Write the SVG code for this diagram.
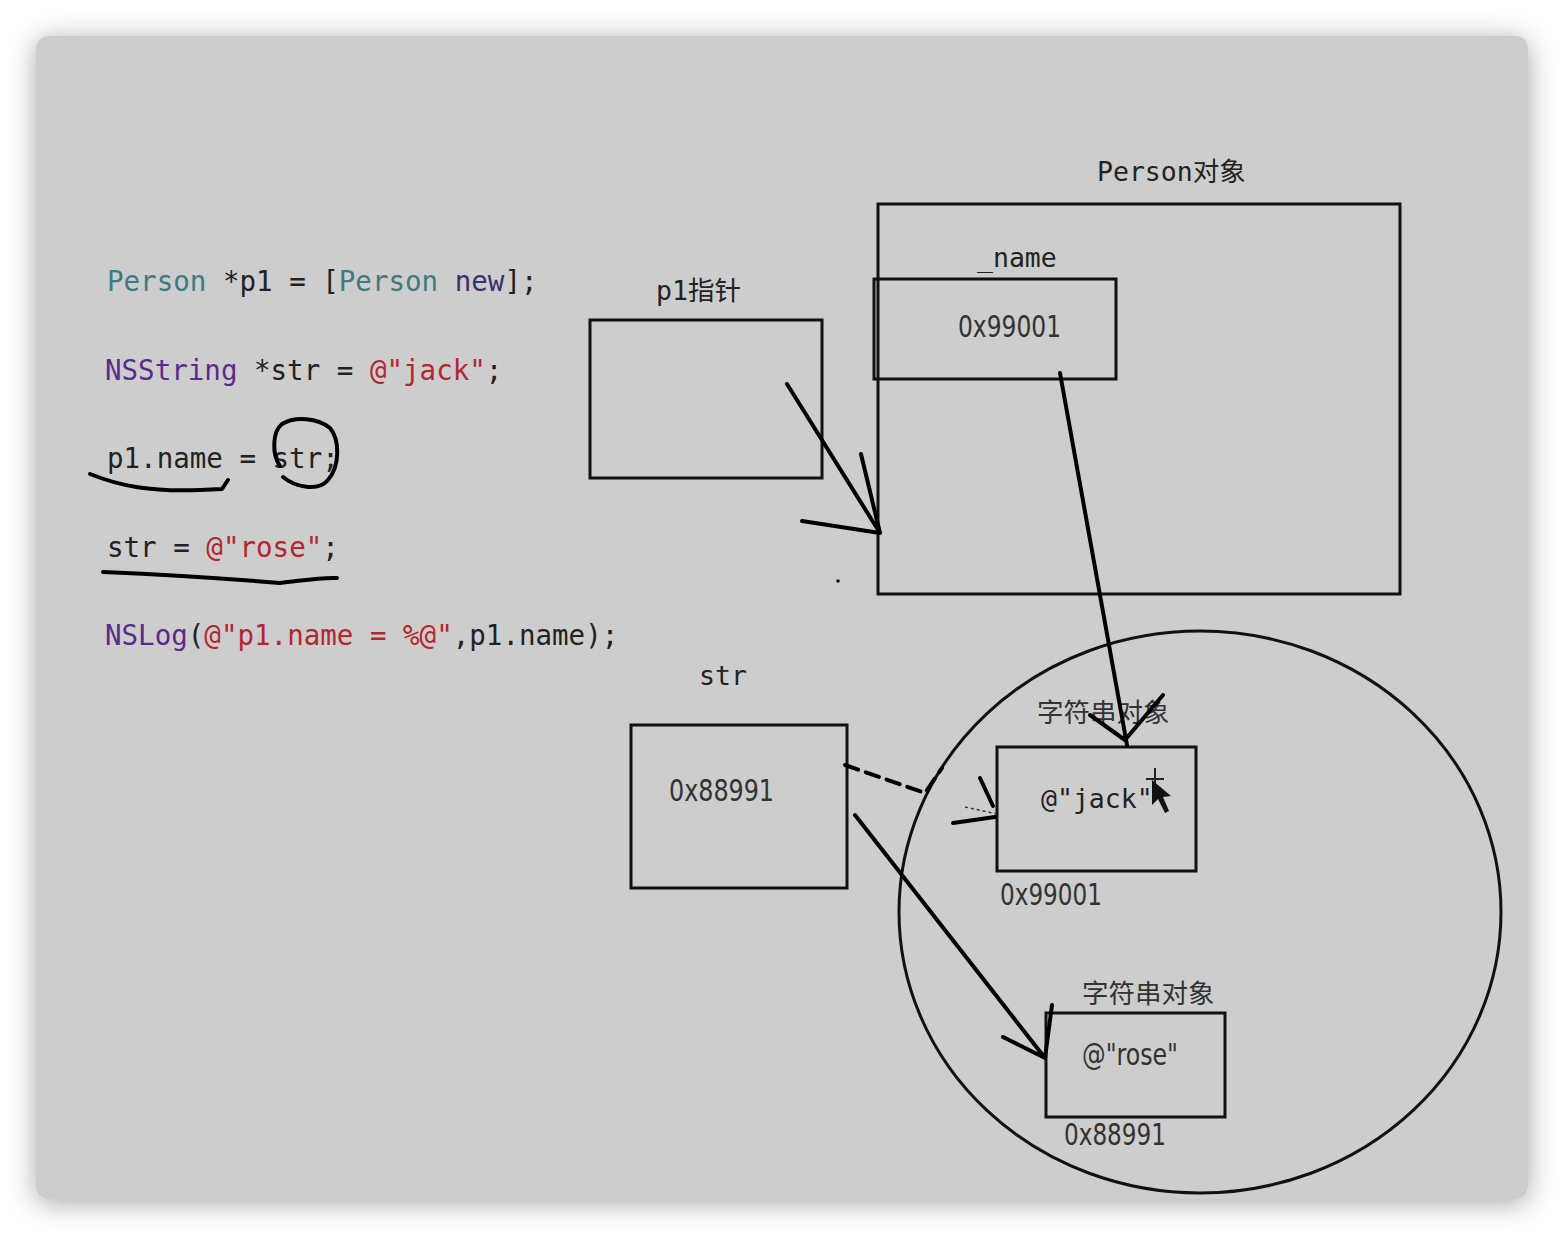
<svg xmlns="http://www.w3.org/2000/svg" width="1564" height="1236" viewBox="0 0 1564 1236">
<defs>
<filter id="sh" x="-10%" y="-10%" width="120%" height="120%">
<feDropShadow dx="0" dy="4" stdDeviation="14" flood-color="#000" flood-opacity="0.35"/>
</filter>
<style>
.box{fill:none;stroke:#111;stroke-width:3}
.ink{fill:none;stroke:#000;stroke-width:4;stroke-linecap:round;stroke-linejoin:round}
.mono{font-family:"DejaVu Sans Mono","Liberation Mono","Noto Sans CJK SC",monospace;font-size:27.5px;fill:#222}
.lbl{font-family:"DejaVu Sans Mono","Noto Sans CJK SC",monospace;font-size:26.5px;fill:#222}
.cjk{font-family:"DejaVu Sans","Noto Sans CJK SC",sans-serif;font-size:26.5px;fill:#333}
.addr{font-family:"DejaVu Sans Condensed","DejaVu Sans",sans-serif;font-size:30px;fill:#333}
.t{fill:#3e7a80}.k{fill:#3b2d6e}.c{fill:#5b2a8f}.s{fill:#b3262e}
</style>
</defs>
<rect width="1564" height="1236" fill="#ffffff"/>
<rect x="36" y="36" width="1492" height="1163" rx="12" fill="#cdcdcd" filter="url(#sh)"/>

<g id="code">
<text class="mono" x="107" y="291"><tspan class="t">Person</tspan> *p1 = [<tspan class="t">Person</tspan> <tspan class="k">new</tspan>];</text>
<text class="mono" x="105" y="380"><tspan class="c">NSString</tspan> *str = <tspan class="s">@"jack"</tspan>;</text>
<text class="mono" x="107" y="468">p1.name = str;</text>
<text class="mono" x="107" y="557">str = <tspan class="s">@"rose"</tspan>;</text>
<text class="mono" x="105" y="645"><tspan class="c">NSLog</tspan>(<tspan class="s">@"p1.name = %@"</tspan>,p1.name);</text>
<path class="ink" d="M90,474 C120,486 150,492 200,490 L222,489 L228,480"/>
<path class="ink" d="M283,477 C295,487 318,492 328,480 C340,466 340,440 330,428 C318,418 295,416 282,424 C272,432 272,455 280,466"/>
<path class="ink" d="M103,572 C150,574 220,578 280,583 C300,581 320,577 337,578"/>
</g>

<g id="p1">
<text class="lbl" x="656" y="300">p1指针</text>
<rect class="box" x="590" y="320" width="232" height="158"/>
</g>

<g id="person">
<text class="lbl" x="1097" y="181">Person对象</text>
<rect class="box" x="878" y="204" width="522" height="390"/>
<text class="lbl" x="977" y="267">_name</text>
<rect class="box" x="874" y="279" width="242" height="100"/>
<text class="addr" x="958" y="337" textLength="103" lengthAdjust="spacingAndGlyphs">0x99001</text>
</g>

<g id="str">
<text class="lbl" x="699" y="685">str</text>
<rect class="box" x="631" y="725" width="216" height="163"/>
<text class="addr" x="669" y="801" textLength="105" lengthAdjust="spacingAndGlyphs">0x88991</text>
</g>

<g id="heap">
<ellipse class="box" cx="1200" cy="912" rx="301" ry="281" stroke-width="3.5"/>
</g>

<g id="jack">
<text class="cjk" x="1037" y="722">字符串对象</text>
<rect class="box" x="997" y="747" width="199" height="124"/>
<text class="lbl" x="1041" y="808">@"jack"</text>
<text class="addr" x="1000" y="905" textLength="102" lengthAdjust="spacingAndGlyphs">0x99001</text>
<path d="M1155,768 V790 M1146,779 H1164" stroke="#222" stroke-width="2" fill="none"/>
<path d="M1152,780 L1152,805 L1158,799 L1165,813 L1169,811 L1163,797 L1171,796 Z" fill="#111"/>
</g>

<g id="rose">
<text class="cjk" x="1082" y="1003">字符串对象</text>
<rect class="box" x="1046" y="1013" width="179" height="104"/>
<text class="addr" x="1082" y="1065" textLength="96" lengthAdjust="spacingAndGlyphs">@"rose"</text>
<text class="addr" x="1064" y="1145" textLength="102" lengthAdjust="spacingAndGlyphs">0x88991</text>
</g>

<g id="connectors">
<path class="ink" d="M787,384 L880,533 M861,454 L880,533 M802,521 L880,533"/>
<path class="ink" d="M1060,373 L1127,745 M1090,715 L1125,740 M1163,695 L1125,740"/>
<path class="ink" d="M845,765 L925,793 L942,768" stroke-dasharray="14,8"/>
<path class="ink" d="M980,778 L993,806 M953,823 L995,817"/>
<path d="M965,807 L997,814" stroke="#333" stroke-width="1.5" stroke-dasharray="3,3" fill="none"/>
<path class="ink" d="M855,815 L1045,1058 M1052,1005 L1045,1058 M1003,1037 L1045,1058"/>
<circle cx="838" cy="581" r="1.8" fill="#111"/>
</g>
</svg>
